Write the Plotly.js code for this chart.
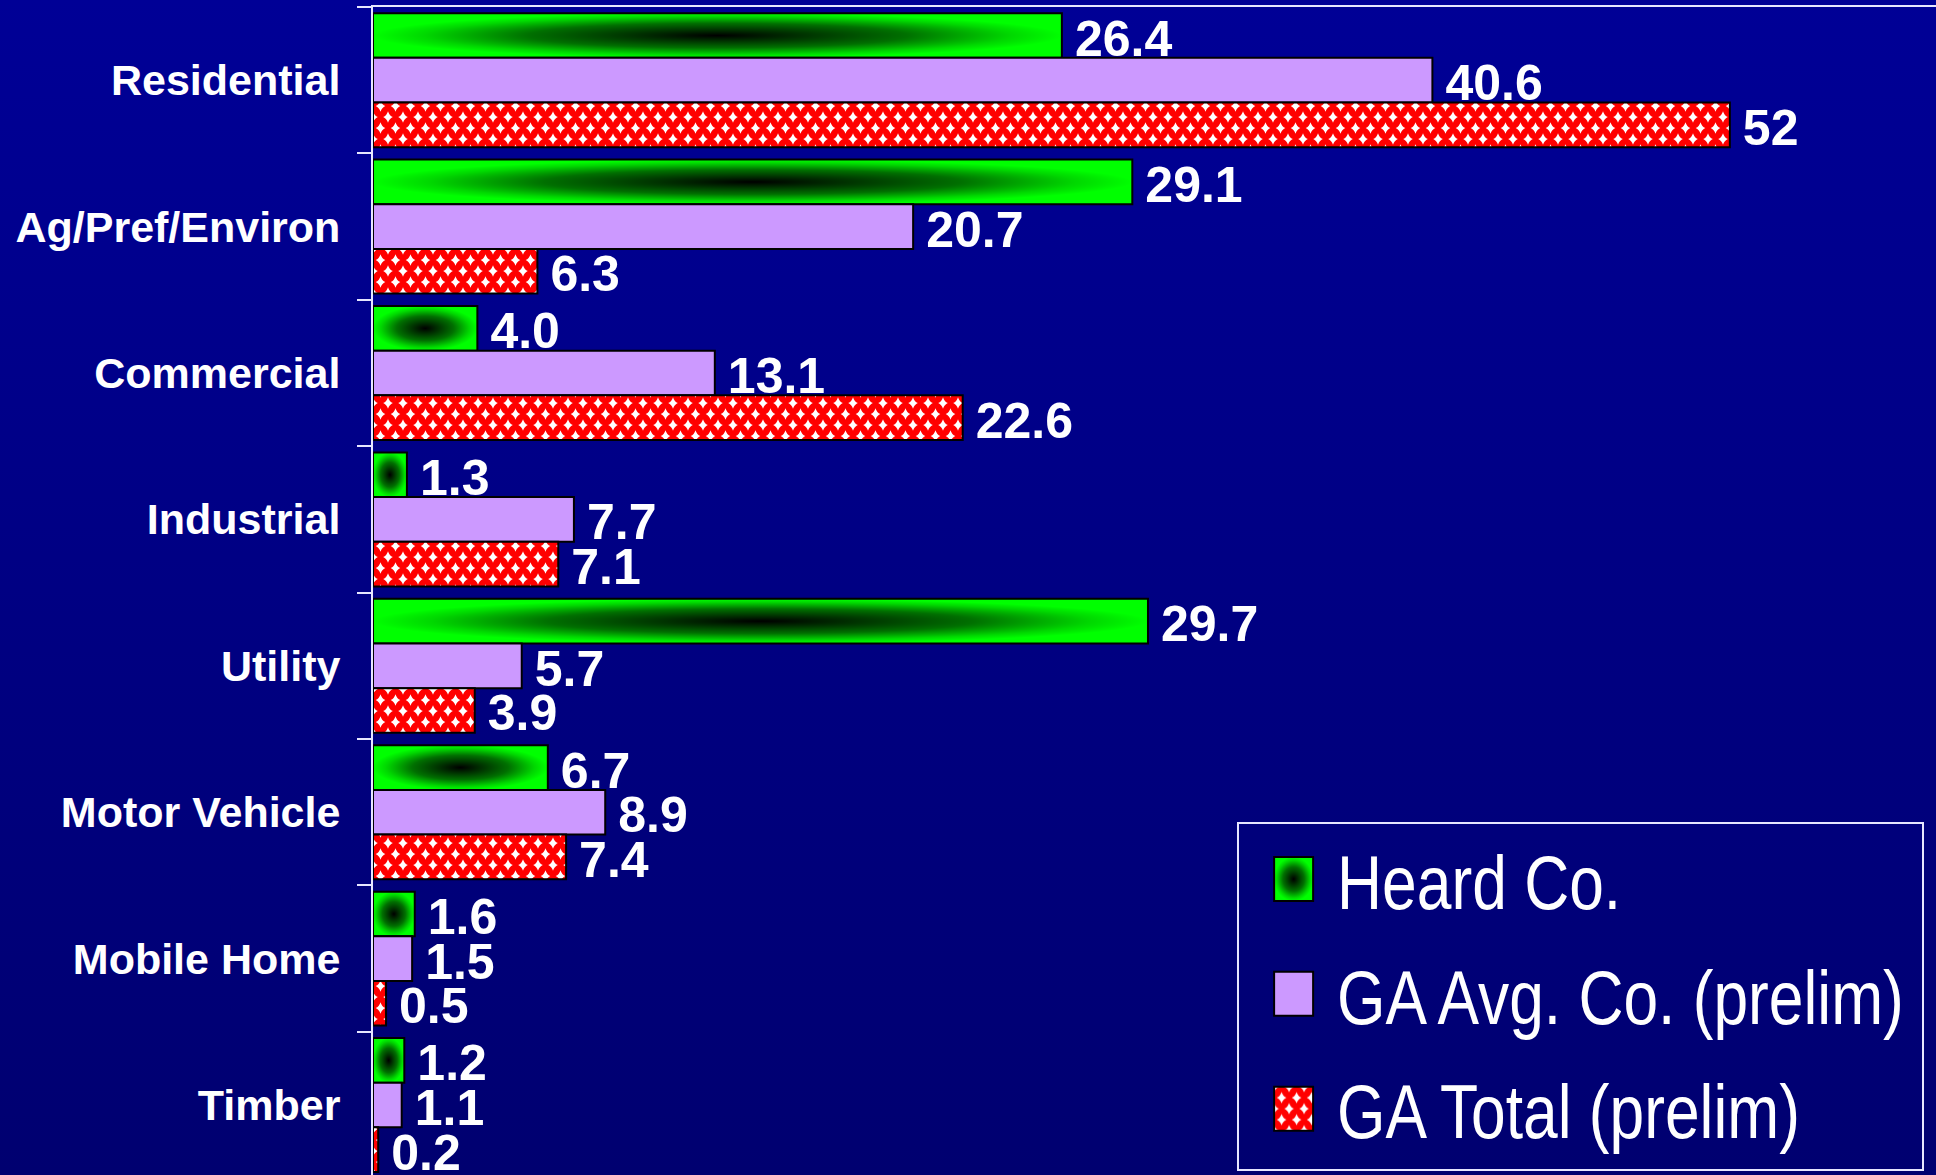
<!DOCTYPE html>
<html>
<head>
<meta charset="utf-8">
<script src="https://cdn.plot.ly/plotly-3.0.1.min.js"></script>
<style>
  html, body { margin: 0; padding: 0; }
  body { width: 1936px; height: 1175px; background: linear-gradient(to bottom, #000096 0%, #000070 100%); overflow: hidden; }
  #chart { width: 1936px; height: 1175px; }
</style>
</head>
<body>
<div id="chart"></div>
<script>
// ---- data ----
const categories = ['Residential', 'Ag/Pref/Environ', 'Commercial', 'Industrial', 'Utility', 'Motor Vehicle', 'Mobile Home', 'Timber'];
const seriesNames = ['Heard Co.', 'GA Avg. Co. (prelim)', 'GA Total (prelim)'];
const heardValues = [26.4, 29.1, 4.0, 1.3, 29.7, 6.7, 1.6, 1.2];
const gaAvgValues = [40.6, 20.7, 13.1, 7.7, 5.7, 8.9, 1.5, 1.1];
const gaTotalValues = [52, 6.3, 22.6, 7.1, 3.9, 7.4, 0.5, 0.2];
const heardLabels = ['26.4', '29.1', '4.0', '1.3', '29.7', '6.7', '1.6', '1.2'];
const gaAvgLabels = ['40.6', '20.7', '13.1', '7.7', '5.7', '8.9', '1.5', '1.1'];
const gaTotalLabels = ['52', '6.3', '22.6', '7.1', '3.9', '7.4', '0.5', '0.2'];

const FONT = 'Liberation Sans, Arial, Helvetica, sans-serif';
const NARROW = 'Liberation Sans Narrow, Arial Narrow, Liberation Sans, Arial, sans-serif';
const lineCol = '#e6e6ff';

function barTrace(name, vals, labels, color) {
  return {
    type: 'bar', orientation: 'h', name: name, legendgroup: name,
    y: categories, x: vals, text: labels,
    texttemplate: '\u2009%{text}', textposition: 'outside',
    constraintext: 'none', cliponaxis: false,
    textfont: { family: FONT, size: 50, color: '#ffffff', weight: 'bold' },
    marker: { color: color, line: { color: '#000000', width: 2 } },
    hoverinfo: 'none'
  };
}

const traces = [
  barTrace(seriesNames[0], heardValues, heardLabels, '#00ff00'),
  barTrace(seriesNames[1], gaAvgValues, gaAvgLabels, '#cc99ff'),
  barTrace(seriesNames[2], gaTotalValues, gaTotalLabels, '#ff0000')
];

const layout = {
  width: 1936, height: 1175,
  margin: { l: 373, r: 0, t: 7, b: 0, pad: 0 },
  paper_bgcolor: 'rgba(0,0,0,0)', plot_bgcolor: 'rgba(0,0,0,0)',
  font: { family: FONT, color: '#ffffff' },
  barmode: 'group', bargap: 0.085, bargroupgap: 0,
  showlegend: true,
  legend: {
    x: 0.9923, xanchor: 'right', y: 0.0067, yanchor: 'bottom',
    bgcolor: 'rgba(0,0,0,0)', bordercolor: lineCol, borderwidth: 2,
    font: { family: NARROW, size: 76, color: '#ffffff' },
    traceorder: 'grouped', tracegroupgap: 13
  },
  xaxis: {
    side: 'top', range: [0, 59.9], showline: true, linecolor: lineCol, linewidth: 2,
    showgrid: false, zeroline: false, showticklabels: false, ticks: '', fixedrange: true
  },
  yaxis: {
    type: 'category', range: [7.478, -0.5],
    showline: true, linecolor: lineCol, linewidth: 2,
    ticks: 'outside', tickson: 'boundaries', ticklen: 14, tickwidth: 2, tickcolor: lineCol,
    ticklabelstandoff: 22,
    tickfont: { family: FONT, size: 43, color: '#ffffff', weight: 'bold' },
    showgrid: false, zeroline: false, fixedrange: true
  }
};

Plotly.newPlot('chart', traces, layout, { staticPlot: true, displayModeBar: false }).then(function (gd) {
  const svg = gd.querySelector('.main-svg');
  let defs = svg.querySelector('defs');
  const ns = 'http://www.w3.org/2000/svg';
  if (!defs) { defs = document.createElementNS(ns, 'defs'); svg.insertBefore(defs, svg.firstChild); }
  const star = function (cx, cy) {
    const w = 4.8, h = 5.8, c = 1.4;
    return 'M' + cx + ',' + (cy - h) +
      ' Q' + (cx + c) + ',' + (cy - c) + ' ' + (cx + w) + ',' + cy +
      ' Q' + (cx + c) + ',' + (cy + c) + ' ' + cx + ',' + (cy + h) +
      ' Q' + (cx - c) + ',' + (cy + c) + ' ' + (cx - w) + ',' + cy +
      ' Q' + (cx - c) + ',' + (cy - c) + ' ' + cx + ',' + (cy - h) + 'Z';
  };
  const pts = [[0, 0], [15, 0], [0, 22], [15, 22], [7.5, 11]];
  defs.insertAdjacentHTML('beforeend',
    '<radialGradient id="greenCenter" cx="50%" cy="50%" r="50%">' +
    '<stop offset="0" stop-color="#000000"/>' +
    '<stop offset="0.55" stop-color="#007000"/>' +
    '<stop offset="0.85" stop-color="#00d800"/>' +
    '<stop offset="1" stop-color="#00ff00"/>' +
    '</radialGradient>' +
    '<pattern id="redChecker" patternUnits="userSpaceOnUse" width="15" height="22">' +
    '<rect x="0" y="0" width="15" height="22" fill="#ff0000"/>' +
    pts.map(p => '<path d="' + star(p[0], p[1]) + '" fill="#ffffff"/>').join('') +
    '</pattern>');
  const fills = ['url(#greenCenter)', null, 'url(#redChecker)'];
  gd.querySelectorAll('.barlayer .trace.bars').forEach(function (tr, i) {
    if (fills[i]) tr.querySelectorAll('.point path').forEach(function (p) { p.style.fill = fills[i]; });
  });
  // nudge value labels down a little (digits have no descenders)
  gd.querySelectorAll('.barlayer text.bartext').forEach(function (t) {
    const tf = t.getAttribute('transform') || '';
    t.setAttribute('transform', 'translate(0,3) ' + tf);
  });

  // legend: larger symbols, condensed text, box fitted to it
  const leg = gd.querySelector('.legend');
  if (!leg) return;
  const squeeze = 0.82, textX = 98, padR = 20, padTop = 56, padBottom = 61;
  let maxL = 0;
  leg.querySelectorAll('.traces').forEach(function (tr, i) {
    const p = tr.querySelector('.legendpoints path');
    if (p) {
      p.setAttribute('d', 'M54,22H15V-22H54Z');
      if (fills[i]) p.style.fill = fills[i];
    }
    const t = tr.querySelector('text.legendtext');
    if (t) {
      const L = t.getComputedTextLength() * squeeze;
      t.setAttribute('x', 0);
      t.setAttribute('transform', 'translate(' + textX + ',0) scale(' + squeeze + ',1)');
      maxL = Math.max(maxL, L);
    }
  });
  const rect = leg.querySelector('rect.bg');
  const m = /translate\(\s*([-\d.e]+)[ ,]+([-\d.e]+)\s*\)/.exec(leg.getAttribute('transform') || '');
  if (rect && m) {
    const tx = +m[1], ty = +m[2];
    const W0 = +rect.getAttribute('width');
    const W = textX + maxL + padR;
    rect.setAttribute('width', W);
    leg.setAttribute('transform', 'translate(' + (tx + W0 - W) + ',' + ty + ')');
    const syms = leg.querySelectorAll('.legendpoints path');
    if (syms.length) {
      const b1 = syms[0].getBoundingClientRect(), b3 = syms[syms.length - 1].getBoundingClientRect();
      const c1 = (b1.top + b1.bottom) / 2, c3 = (b3.top + b3.bottom) / 2;
      rect.setAttribute('y', c1 - padTop - ty);
      rect.setAttribute('height', (c3 + padBottom) - (c1 - padTop));
    }
  }
});
</script>
</body>
</html>
